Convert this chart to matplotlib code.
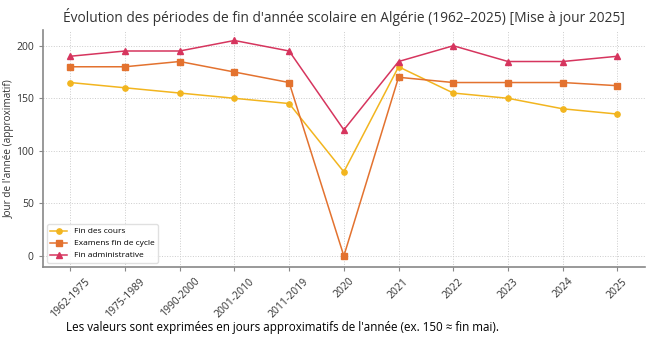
import matplotlib.pyplot as plt

# Data
periods = ["1962-1975", "1975-1989", "1990-2000", "2001-2010", "2011-2019",
           "2020", "2021", "2022", "2023", "2024", "2025"]
fin_cours = [165, 160, 155, 150, 145, 80, 180, 155, 150, 140, 135]
examens = [180, 180, 185, 175, 165, 0, 170, 165, 165, 165, 162]
fin_admin = [190, 195, 195, 205, 195, 120, 185, 200, 185, 185, 190]

plt.rcParams['font.family'] = ['Open Sans', 'DejaVu Sans']

fig = plt.figure(figsize=(6.5, 3.43), dpi=100)
ax = fig.add_axes([0.066, 0.2216, 0.926, 0.691])

x = range(len(periods))
ax.plot(x, fin_cours, marker='o', markersize=3.8, linewidth=1.1, color='#f2b51f', label="Fin des cours")
ax.plot(x, examens, marker='s', markersize=3.8, linewidth=1.1, color='#e3722f', label="Examens fin de cycle")
ax.plot(x, fin_admin, marker='^', markersize=3.8, linewidth=1.1, color='#d6355e', label="Fin administrative")

ax.set_xlim(-0.5, 10.5)
ax.set_ylim(-10.5, 215)
ax.set_xticks(list(x))
ax.set_xticklabels(periods, rotation=45, fontsize=7.5, color='#333333')
ax.set_yticks([0, 50, 100, 150, 200])
ax.tick_params(axis='y', labelsize=7.5, labelcolor='#333333', length=3, color='#888888')
ax.tick_params(axis='x', length=3, color='#888888')
ax.set_ylabel("Jour de l'année (approximatif)", fontsize=7.2, color='#333333')
ax.yaxis.set_label_coords(-0.0465, 0.5)

ax.grid(True, linestyle=':', linewidth=0.7, color='#cccccc')
for side in ['top', 'right']:
    ax.spines[side].set_visible(False)
for side in ['left', 'bottom']:
    ax.spines[side].set_color('#888888')
    ax.spines[side].set_linewidth(1.2)

ax.legend(loc='lower left', fontsize=6, frameon=True, framealpha=0.9, edgecolor='#dddddd')

ax.set_title("Évolution des périodes de fin d'année scolaire en Algérie (1962–2025) [Mise à jour 2025]",
             fontsize=9.9, color='#333333', pad=6)

fig.text(66 / 650, 1 - 327 / 343,
         "Les valeurs sont exprimées en jours approximatifs de l'année (ex. 150 ≈ fin mai).",
         fontsize=8.4, va='center', ha='left', color='black')

fig.savefig("out.png", dpi=100)
